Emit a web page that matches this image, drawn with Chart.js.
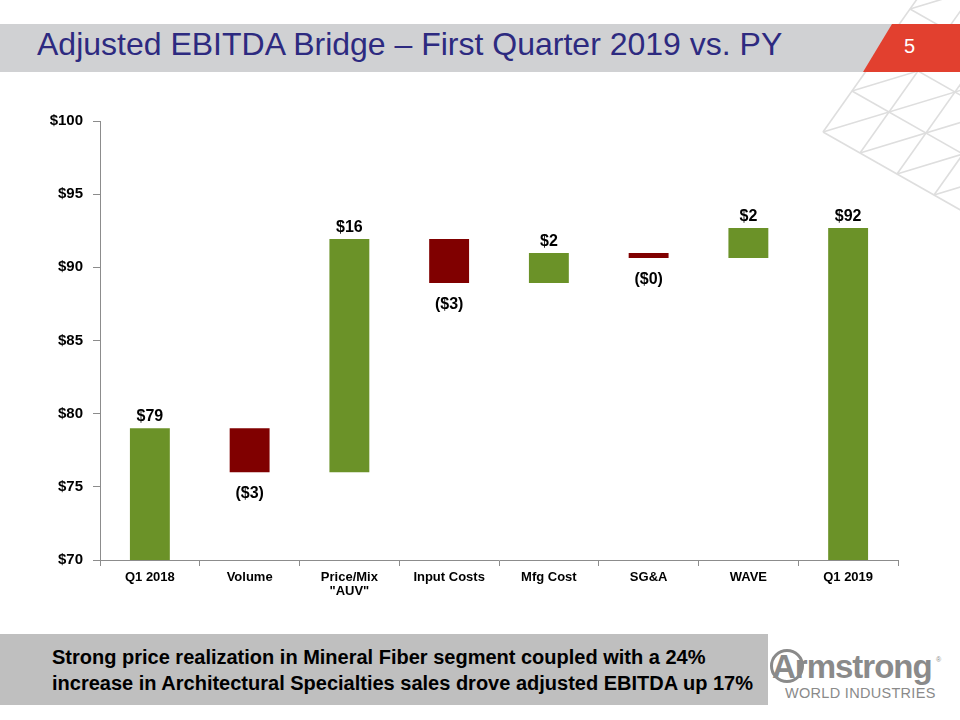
<!DOCTYPE html>
<html>
<head>
<meta charset="utf-8">
<script src="https://cdn.jsdelivr.net/npm/chart.js@4.4.1/dist/chart.umd.min.js"></script>
<style>
  html, body { margin: 0; padding: 0; background: #fff; }
  body { width: 960px; height: 720px; position: relative; overflow: hidden; font-family: "Liberation Sans", Arial, sans-serif; }
  #deco { position: absolute; left: 0; top: 0; }
  #title { position: absolute; left: 37px; top: 24px; font-size: 32px; line-height: 40px; color: #2d2a80; white-space: nowrap; }
  #page { position: absolute; left: 904px; top: 35px; font-size: 20px; color: #fff; }
  #chartBox { position: absolute; left: 0; top: 100px; width: 930px; height: 520px; }
  #note { position: absolute; left: 0; top: 634px; width: 768px; height: 71px; background: #bfbfbf; }
  #note p { margin: 0; position: absolute; left: 52px; top: 10px; font-size: 20px; font-weight: bold; line-height: 26px; color: #000; white-space: nowrap; }
  #logo { position: absolute; left: 770px; top: 648px; width: 175px; height: 60px; color: #8a8a8a; }
  #logo .name { position: absolute; left: 2px; top: 0; font-size: 33px; font-weight: bold; letter-spacing: -1px; }
  #logo .ring { position: absolute; left: 0; top: 1px; width: 34px; height: 34px; border: 3px solid #8a8a8a; border-radius: 50%; box-sizing: border-box; }
  #logo .reg { position: absolute; left: 166px; top: 8px; font-size: 7px; }
  #logo .sub { position: absolute; left: 15px; top: 37px; font-size: 14.5px; letter-spacing: 0.3px; }
</style>
</head>
<body>
<svg id="deco" width="960" height="720"></svg>
<div id="title">Adjusted EBITDA Bridge – First Quarter 2019 vs. PY</div>
<div id="page">5</div>
<div id="chartBox"><canvas id="chart" width="930" height="520"></canvas></div>
<div id="note"><p>Strong price realization in Mineral Fiber segment coupled with a 24%<br>increase in Architectural Specialties sales drove adjusted EBITDA up 17%</p></div>
<div id="logo">
  <div class="ring"></div>
  <div class="name">Armstrong</div>
  <div class="reg">®</div>
  <div class="sub">WORLD INDUSTRIES</div>
</div>
<script>
// bridge steps, $M
const categories = ['Q1 2018', 'Volume', ['Price/Mix', '"AUV"'], 'Input Costs', 'Mfg Cost', 'SG&A', 'WAVE', 'Q1 2019'];
const barFrom = [70, 79, 76, 91.93, 88.93, 90.98, 90.64, 70];
const barTo   = [79, 76, 91.93, 88.93, 90.98, 90.64, 92.69, 92.69];
const barLabels = ['$79', '($3)', '$16', '($3)', '$2', '($0)', '$2', '$92'];
const yTicks = [70, 75, 80, 85, 90, 95, 100];

const GREEN = '#6b9228';
const RED = '#800000';

// header decoration: lattice, grey band, red page tab
(function () {
    const svg = document.getElementById('deco');
    const ns = 'http://www.w3.org/2000/svg';
    const add = (tag, attrs) => {
        const el = document.createElementNS(ns, tag);
        for (const k in attrs) el.setAttribute(k, attrs[k]);
        svg.appendChild(el);
    };
    const A = [823, 132], u = [37, 21], v = [29, -41];
    const pt = (i, j) => [A[0] + i * u[0] + j * v[0], A[1] + i * u[1] + j * v[1]];
    const line = (p, q) => add('line', { x1: p[0], y1: p[1], x2: q[0], y2: q[1], stroke: '#dedede', 'stroke-width': 1.6 });
    for (let j = 0; j <= 6; j++) line(pt(0, j), pt(8, j));
    for (let i = 0; i <= 6; i++) line(pt(i, 0), pt(i, 8));
    for (let k = -6; k <= 6; k++) {
        const s = k >= 0 ? [k, 0] : [0, -k];
        line(pt(s[0], s[1]), pt(s[0] + 8, s[1] + 8));
    }
    add('rect', { x: 0, y: 24, width: 900, height: 48, fill: '#d0d1d3' });
    add('polygon', { points: '892,24 960,24 960,72 863,72', fill: '#e2402f' });
})();

const labelPlugin = {
    id: 'barLabels',
    afterDatasetsDraw(chart) {
        const ctx = chart.ctx;
        const meta = chart.getDatasetMeta(0);
        const y = chart.scales.y;
        ctx.save();
        ctx.font = 'bold 16px "Liberation Sans", Arial, sans-serif';
        ctx.fillStyle = '#000';
        ctx.textAlign = 'center';
        ctx.textBaseline = 'alphabetic';
        meta.data.forEach((bar, i) => {
            if (barTo[i] >= barFrom[i]) {
                ctx.fillText(barLabels[i], bar.x, y.getPixelForValue(barTo[i]) - 7);
            } else {
                ctx.fillText(barLabels[i], bar.x, y.getPixelForValue(barTo[i]) + 26);
            }
        });
        ctx.restore();
    }
};

new Chart(document.getElementById('chart'), {
    type: 'bar',
    data: {
        labels: categories,
        datasets: [{
            data: barFrom.map((f, i) => [f, barTo[i]]),
            backgroundColor: barFrom.map((f, i) => barTo[i] >= f ? GREEN : RED),
            barPercentage: 0.4,
            categoryPercentage: 1.0,
            borderWidth: 0
        }]
    },
    options: {
        responsive: false,
        animation: false,
        layout: { padding: { top: 21, right: 32, left: 0, bottom: 0 } },
        plugins: { legend: { display: false }, tooltip: { enabled: false } },
        scales: {
            y: {
                min: 70,
                max: 100,
                afterBuildTicks: (axis) => { axis.ticks = yTicks.map(v => ({ value: v })); },
                afterFit: (axis) => { axis.width = 100; },
                border: { color: '#8c8c8c', width: 1 },
                grid: { drawOnChartArea: false, drawTicks: true, tickLength: 7, color: '#8c8c8c' },
                ticks: {
                    padding: 10,
                    color: '#000',
                    font: { family: '"Liberation Sans", Arial, sans-serif', size: 15, weight: 'bold' },
                    callback: (v) => '$' + v
                }
            },
            x: {
                afterFit: (axis) => { axis.height = 60; },
                border: { color: '#8c8c8c', width: 1 },
                grid: { offset: true, drawOnChartArea: false, drawTicks: true, tickLength: 6, color: '#8c8c8c' },
                ticks: {
                    padding: 4,
                    color: '#000',
                    maxRotation: 0,
                    autoSkip: false,
                    font: { family: '"Liberation Sans", Arial, sans-serif', size: 13, weight: 'bold', lineHeight: 1.1 }
                }
            }
        }
    },
    plugins: [labelPlugin]
});
</script>
</body>
</html>
